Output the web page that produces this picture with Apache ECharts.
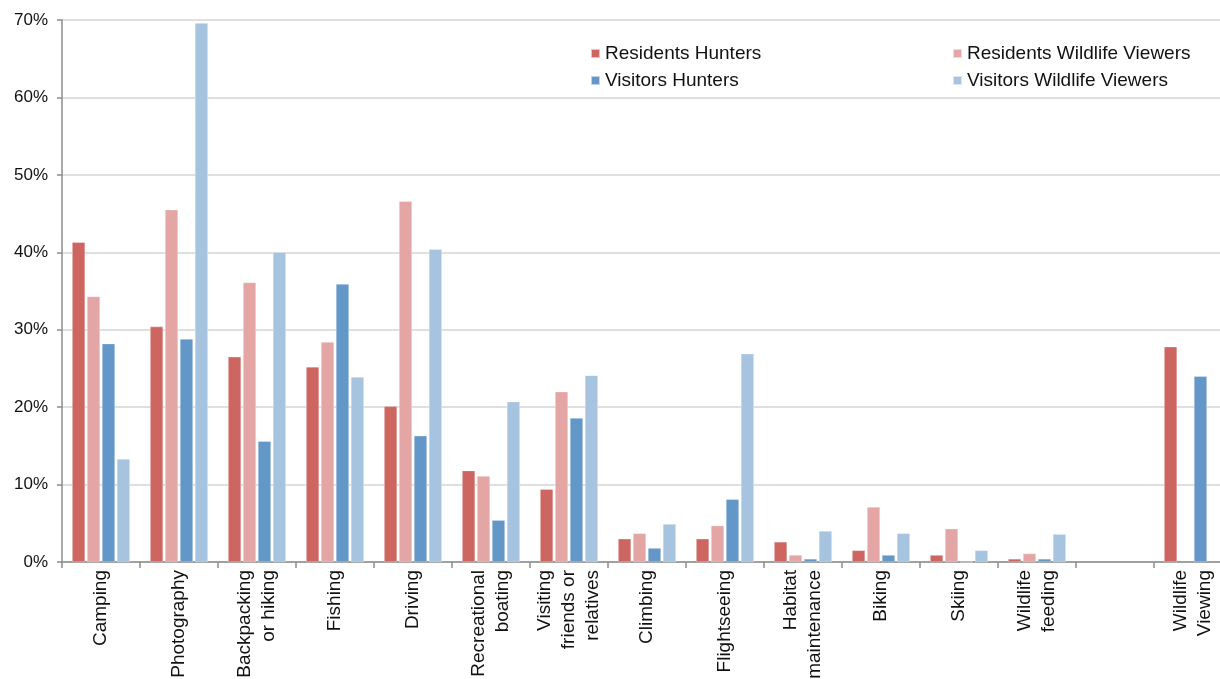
<!DOCTYPE html>
<html>
<head>
<meta charset="utf-8">
<script src="https://cdn.jsdelivr.net/npm/echarts@6/dist/echarts.min.js"></script>
<style>html,body{margin:0;padding:0;background:#fff;}#c{width:1220px;height:679px;}</style>
</head>
<body>
<div id="c"></div>
<script>
const categories = ["Camping","Photography","Backpacking\nor hiking","Fishing","Driving","Recreational\nboating","Visiting\nfriends or\nrelatives","Climbing","Flightseeing","Habitat\nmaintenance","Biking","Skiing","Wildlife\nfeeding","","Wildlife\nViewing"];
const residentsHunters = [41.3,30.4,26.5,25.2,20.1,11.8,9.4,3.0,3.0,2.6,1.5,0.9,0.4,null,27.8];
const residentsViewers = [34.3,45.5,36.1,28.4,46.6,11.1,22.0,3.7,4.7,0.9,7.1,4.3,1.1,null,null];
const visitorsHunters = [28.2,28.8,15.6,35.9,16.3,5.4,18.6,1.8,8.1,0.4,0.9,0,0.4,null,24.0];
const visitorsViewers = [13.3,69.6,40.0,23.9,40.4,20.7,24.1,4.9,26.9,4.0,3.7,1.5,3.6,null,null];
const yTicks = [0,10,20,30,40,50,60,70];

const FONT = '"Liberation Sans", Arial, sans-serif';
const colors = ['#CD6661','#E3A6A4','#6297C8','#A6C3E0'];
const names = ['Residents Hunters','Residents Wildlife Viewers','Visitors Hunters','Visitors Wildlife Viewers'];
const datas = [residentsHunters, residentsViewers, visitorsHunters, visitorsViewers];

const chart = echarts.init(document.getElementById('c'), null, {renderer:'canvas'});
chart.setOption({
  animation: false,
  backgroundColor: '#fff',
  textStyle: {fontFamily: FONT},
  grid: {left: 62, top: 20, width: 1170, height: 542, outerBoundsMode: 'none', containLabel: false},
  legend: [
    {data: [names[0], names[2]], orient: 'vertical', left: 585, top: 39, itemWidth: 9, itemHeight: 9, itemGap: 8, icon: 'rect',
     textStyle: {fontSize: 19, color: '#111', fontFamily: FONT}},
    {data: [names[1], names[3]], orient: 'vertical', left: 947, top: 39, itemWidth: 9, itemHeight: 9, itemGap: 8, icon: 'rect',
     textStyle: {fontSize: 19, color: '#111', fontFamily: FONT}}
  ],
  xAxis: {
    type: 'category',
    data: categories,
    axisLine: {lineStyle: {color: '#8c8c8c', width: 1.5}},
    axisTick: {show: true, length: 6, lineStyle: {color: '#8c8c8c', width: 1.5}},
    axisLabel: {interval: 0, rotate: 90, fontSize: 19, color: '#111', margin: 8, lineHeight: 24, fontFamily: FONT},
    splitLine: {show: false}
  },
  yAxis: {
    type: 'value',
    min: yTicks[0], max: yTicks[yTicks.length-1], interval: 10,
    axisLine: {show: true, lineStyle: {color: '#8c8c8c', width: 1.5}},
    axisTick: {show: true, length: 5, lineStyle: {color: '#8c8c8c', width: 1.5}},
    axisLabel: {fontSize: 17, color: '#111', margin: 14, formatter: v => v + '%', fontFamily: FONT},
    splitLine: {show: true, lineStyle: {color: '#d4d4d4', width: 1.5}}
  },
  series: names.map((n, i) => ({
    name: n,
    type: 'bar',
    data: datas[i],
    barWidth: 13,
    barGap: '15%',
    itemStyle: {color: colors[i], borderColor: 'rgba(255,255,255,0.6)', borderWidth: 0.5}
  }))
});
</script>
</body>
</html>
